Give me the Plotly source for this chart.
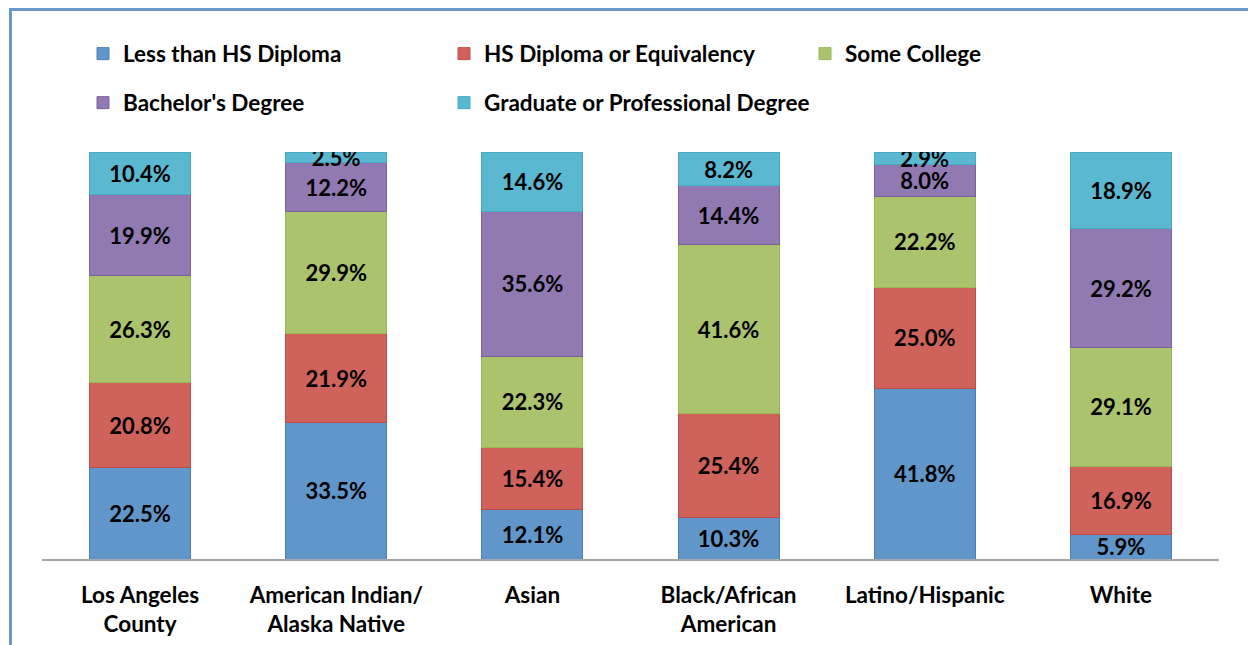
import plotly.graph_objects as go

categories = ["Los Angeles<br>County", "American Indian/<br>Alaska Native", "Asian",
              "Black/African<br>American", "Latino/Hispanic", "White"]
series_names = ["Less than HS Diploma", "HS Diploma or Equivalency", "Some College",
                "Bachelor's Degree", "Graduate or Professional Degree"]
less_than_hs = [22.5, 33.5, 12.1, 10.3, 41.8, 5.9]
hs_diploma = [20.8, 21.9, 15.4, 25.4, 25.0, 16.9]
some_college = [26.3, 29.9, 22.3, 41.6, 22.2, 29.1]
bachelors = [19.9, 12.2, 35.6, 14.4, 8.0, 29.2]
graduate = [10.4, 2.5, 14.6, 8.2, 2.9, 18.9]

series_values = [less_than_hs, hs_diploma, some_college, bachelors, graduate]
fills = ["#6096CA", "#D0625C", "#AAC36C", "#9179B2", "#5BB8D1"]
outlines = ["#4A7EBB", "#BE4B48", "#98B954", "#7D60A0", "#46AAC5"]

FONT = "Lato"
W, H = 1248, 645
ml, mr, mt, mb = 42, 29, 152, 86

fig = go.Figure()
legend_names = ["legend", "legend2", "legend3", "legend4", "legend5"]
for i, (name, vals) in enumerate(zip(series_names, series_values)):
    fig.add_trace(go.Bar(
        x=categories, y=vals, name=name,
        marker=dict(color=fills[i], line=dict(color=outlines[i], width=1)),
        texttemplate="%{y:.1f}%", textposition="inside", insidetextanchor="middle",
        textangle=0, constraintext="none",
        textfont=dict(family=FONT, size=22, color="black", weight="bold"),
        legend=legend_names[i],
    ))

# legend placements (container fractions)
leg_pos = [(83, 54), (444, 54), (805, 54), (83, 103), (444, 103)]
leg_layout = {}
for ln, (px, py) in zip(legend_names, leg_pos):
    leg_layout[ln] = dict(
        x=px / W, y=1 - py / H, xref="container", yref="container",
        xanchor="left", yanchor="middle", orientation="h",
        font=dict(family=FONT, size=22.5, color="black", weight="bold"),
        bgcolor="rgba(0,0,0,0)", borderwidth=0,
    )

pw = W - ml - mr
ph = H - mt - mb

def xp(px):
    return (px - ml) / pw

def yp(py):
    return (H - mb - py) / ph

fig.update_layout(
    width=W, height=H,
    margin=dict(l=ml, r=mr, t=mt, b=mb, pad=0, autoexpand=False),
    barmode="stack", bargap=0.485,
    plot_bgcolor="white", paper_bgcolor="white",
    font=dict(family=FONT, color="black"),
    showlegend=True,
    uniformtext=dict(minsize=22, mode="show"),
    xaxis=dict(showline=True, linecolor="#A6A6A6", linewidth=2, ticks="",
               ticklabelstandoff=15, automargin=False,
               tickfont=dict(family=FONT, size=22.5, color="black", weight="bold"),
               showgrid=False, fixedrange=True),
    yaxis=dict(range=[0, 100], visible=False, showgrid=False, fixedrange=True,
               automargin=False),
    shapes=[dict(type="rect", xref="paper", yref="paper",
                 x0=xp(10.5), x1=xp(1300), y0=yp(9.5), y1=yp(700),
                 line=dict(color="#6A97CC", width=3), fillcolor="rgba(0,0,0,0)",
                 layer="above")],
    **leg_layout,
)

fig.write_html("out.html", config={"displayModeBar": False},
               post_script="document.body.style.margin='0';document.body.style.overflow='hidden';")
